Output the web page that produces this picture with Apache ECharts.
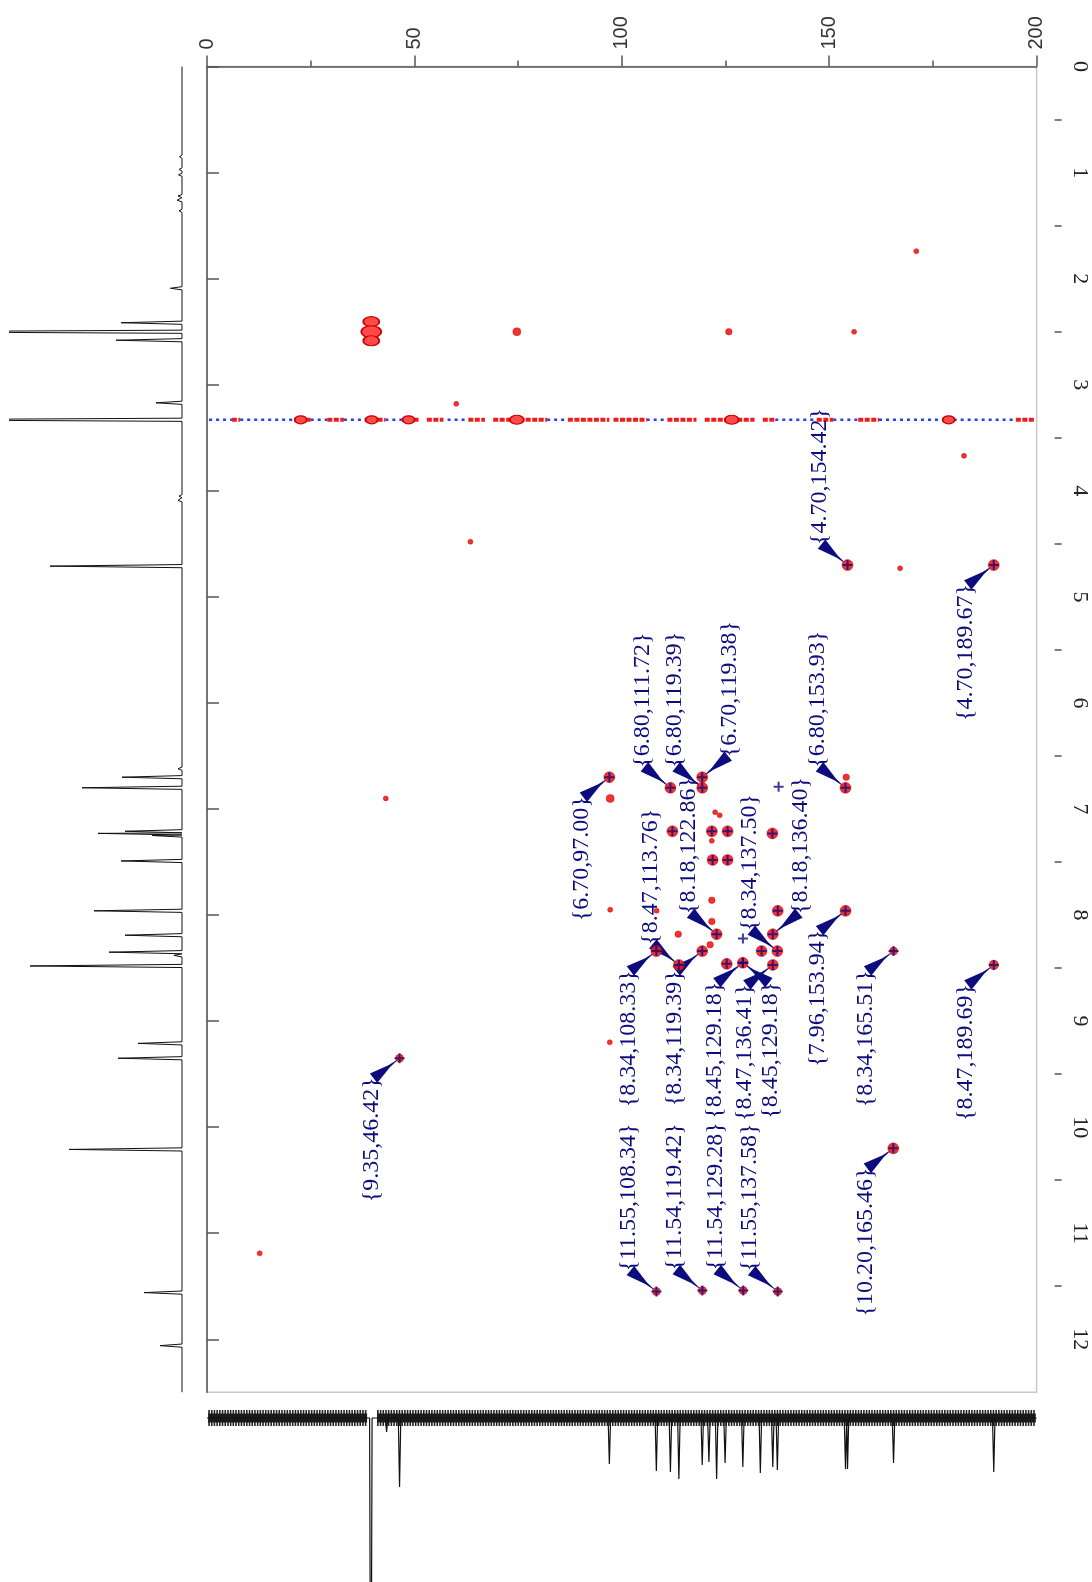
<!DOCTYPE html>
<html><head><meta charset="utf-8">
<script src="https://cdn.jsdelivr.net/npm/echarts@6/dist/echarts.min.js"></script>
<style>html,body{margin:0;padding:0;background:#fff}#c{width:1092px;height:1582px}</style>
</head><body><div id="c"></div>
<script>
// ---------- data ----------
// 13C axis ticks (top) and 1H axis ticks (right)
const cTicks = [0, 50, 100, 150, 200];
const hTicks = [0,1,2,3,4,5,6,7,8,9,10,11,12];
const hMinorTicks = [0.5,1.5,2.5,3.5,4.5,5.5,6.5,7.5,8.5,9.5,10.5,11.5];

// 1H projection peaks: [ppm, height]
const hPeaks = [[0.85,2.5],[0.97,3],[1.02,3.5],[1.22,4],[1.26,5],[1.36,3],[1.76,2],[2.09,11.5],
  [2.415,61],[2.50,300],[2.58,66],[3.17,26],[3.33,300],[4.05,3],[4.09,4],[4.71,132],
  [6.62,4],[6.70,60],[6.80,100],[7.21,57],[7.23,84],[7.25,30],[7.49,61],[7.96,88],[8.19,57],
  [8.35,73],[8.38,8],[8.48,152],[9.21,44],[9.35,64],[10.21,113],[11.56,38],[12.06,22]];

// 13C projection peaks: [ppm, depth]
const cPeaks = [[39.5,400],[43.3,14],[46.42,69],[97.0,46],[108.33,53],[111.72,54],[113.76,61],
  [119.39,47],[121.0,44],[122.86,61],[124.9,45],[129.18,49],[133.4,55],[136.40,49],[137.50,52],
  [153.93,51],[154.42,51],[165.51,45],[189.67,54]];

// 2D cross peaks: [13C, 1H, relative intensity 1..3]
const crossPeaks = [[171.0,1.74,1],[74.7,2.50,2],[125.8,2.50,1.5],[156.0,2.50,1],[60.1,3.18,1],
  [182.5,3.67,1],[63.5,4.48,1],[167.1,4.73,1],[154.42,4.70,3],[189.67,4.70,3],[43.1,6.90,1],
  [97.0,6.70,3],[97.2,6.90,2],[97.2,7.95,1],[97.1,9.20,1],[111.72,6.80,3],[119.39,6.80,3],
  [119.38,6.70,3],[153.93,6.80,3],[154.1,6.70,1.5],[112.2,7.21,3],[121.7,7.21,3],[125.5,7.21,3],
  [136.3,7.23,3],[122.5,7.03,1],[123.6,7.06,1],[121.7,7.30,1],[121.9,7.48,3],[125.5,7.48,3],
  [121.7,7.86,1.5],[108.4,7.96,1],[137.6,7.96,3],[153.94,7.96,3],[121.7,8.06,1.5],[113.6,8.18,1.5],
  [122.86,8.18,3],[136.40,8.18,3],[121.3,8.28,1.5],[108.33,8.34,3],[119.39,8.34,3],[133.7,8.34,3],
  [137.50,8.34,3],[165.51,8.34,2],[113.76,8.47,3],[125.3,8.46,3],[129.18,8.45,3],[136.41,8.47,3],
  [189.69,8.47,2.5],[46.42,9.35,2],[165.46,10.20,3],[12.7,11.19,1],[108.34,11.55,2],
  [119.42,11.54,2],[129.28,11.54,2],[137.58,11.55,2]];

// strong contours: DMSO cluster and t1-noise row blobs [13C, 1H, relative intensity]
const strongPeaks = [[39.6,2.405,2],[39.6,2.50,3],[39.6,2.585,2],
  [22.6,3.33,1],[39.7,3.33,1],[48.6,3.33,1],[74.7,3.33,1.5],[126.5,3.33,1.5],[178.8,3.33,1]];

// t1 noise along 1H 3.33: positive (red) and negative (blue) streaks, 13C ranges
const waterH = 3.33;
const redStreaks = [[6,8],[21,25],[29,33],[38,43],[47,51],[53,57],[63,67],[69,82],[87,97],
  [98,106],[111,118],[120,132],[134,137],[147,151],[157,162],[177.5,180],[195,199.5]];
const blueStreaks = [[0.5,6],[8,21],[25,29],[33,38],[43,47],[58,63],[82,87],[106,111],
  [137,147],[151,157],[162,177],[180,195]];

// extra marked peaks (blue crosses without label): [13C, 1H]
const plusExtra = [[112.2,7.21],[121.7,7.21],[125.5,7.21],[136.3,7.23],[121.9,7.48],[125.5,7.48],
  [137.8,6.79],[137.6,7.96],[129.2,8.22],[133.7,8.34],[125.3,8.46]];

// labelled peaks
const annoH = [4.70,4.70,6.70,6.80,6.80,6.70,6.80,8.47,8.18,8.34,8.18,8.34,8.34,8.45,8.47,8.45,7.96,8.34,8.47,9.35,11.55,11.54,11.54,11.55,10.20];
const annoC = [154.42,189.67,97.00,111.72,119.39,119.38,153.93,113.76,122.86,137.50,136.40,108.33,119.39,129.18,136.41,129.18,153.94,165.51,189.69,46.42,108.34,119.42,129.28,137.58,165.46];

// ---------- layout (not data) ----------
const annoPlace = ['UL','DL','DL','UL','UL','UR','UL','UL','UL','UL','UR','DL','DL','DL','DL','DR','DL','DL','DL','DL','UL','UL','UL','UL','DL'];
const NAVY = '#0c0c7e', RED = '#f01c1c', BLUE = '#2a3cf5';

function spikes(list, hw) {
  const out = [];
  list.forEach(p => { out.push([p[0]-hw, 0], [p[0], p[1]], [p[0]+hw, 0]); });
  return out;
}
const hLine = [[0, 0]].concat(spikes(hPeaks, 0.015).map(p => [p[1], p[0]])).concat([[0, 12.5]]);
const cLine = [[0, 0]].concat(spikes(cPeaks, 0.3)).concat([[200, 0]]);

const plusPath = 'path://M4,0h2v4h4v2h-4v4h-2v-4h-4v-2h4z';

function arrowPoly(sx, sy, ex, ey) {
  const dx = ex - sx, dy = ey - sy, L = Math.hypot(dx, dy);
  const ux = dx / L, uy = dy / L, nx = -uy, ny = ux;
  const w = 6, k = 0.6 * L;
  const mx = sx + ux * k, my = sy + uy * k;
  return [[sx + nx * w, sy + ny * w], [mx + nx * 1.2, my + ny * 1.2], [ex, ey], [mx - nx * 1.2, my - ny * 1.2], [sx - nx * w, sy - ny * w]];
}

const axisCol = '#555';
const bandSeries = (a, b) => [
  {type: 'line', xAxisIndex: 2, yAxisIndex: 3, data: [[a, 0], [b, 0]], symbol: 'none',
    lineStyle: {color: '#222', width: 16, type: [1.6, 1.1]}},
  {type: 'line', xAxisIndex: 2, yAxisIndex: 3, data: [[a, 0], [b, 0]], symbol: 'none',
    lineStyle: {color: '#1a1a1a', width: 9}}
];
const option = {
  animation: false,
  backgroundColor: '#fff',
  grid: [
    {left: 207, top: 66.6, width: 829.6, height: 1325.7, show: true, borderColor: '#c8c8c8', borderWidth: 1.5},
    {left: 10, top: 66.6, width: 172, height: 1325.7},
    {left: 207, top: 1405, width: 829.6, height: 177}
  ],
  xAxis: [
    {gridIndex: 0, type: 'value', min: 0, max: 200, interval: 50, position: 'top', offset: 4,
      axisLine: {show: true, lineStyle: {color: axisCol, width: 1.5}},
      axisTick: {show: true, length: 11, lineStyle: {color: axisCol, width: 1.5}},
      minorTick: {show: true, splitNumber: 2, length: 6, lineStyle: {color: axisCol, width: 1.5}},
      axisLabel: {rotate: 90, margin: 13, fontFamily: 'Liberation Sans', fontSize: 20, color: '#333',
        customValues: cTicks},
      splitLine: {show: false}},
    {gridIndex: 1, type: 'value', min: 0, max: 172, inverse: true, show: false},
    {gridIndex: 2, type: 'value', min: 0, max: 200, show: false}
  ],
  yAxis: [
    {gridIndex: 0, type: 'value', min: 0, max: 12.5, inverse: true, position: 'right', offset: 18,
      axisLine: {show: true, lineStyle: {color: axisCol, width: 1.5}},
      axisTick: {show: true, length: 12, customValues: hTicks, lineStyle: {color: axisCol, width: 1.5}},
      axisLabel: {rotate: -90, margin: 14, customValues: hTicks, fontFamily: 'Liberation Serif', fontSize: 22, color: '#222'},
      splitLine: {show: false}},
    {gridIndex: 0, type: 'value', min: 0, max: 12.5, inverse: true, position: 'right', offset: 18,
      axisLine: {show: false},
      axisTick: {show: true, length: 7, customValues: hMinorTicks, lineStyle: {color: axisCol, width: 1.5}},
      axisLabel: {show: false}, splitLine: {show: false}},
    {gridIndex: 1, type: 'value', min: 0, max: 12.5, inverse: true, show: false},
    {gridIndex: 2, type: 'value', min: -13, max: 164, inverse: true, show: false}
  ],
  series: [
    {type: 'line', xAxisIndex: 1, yAxisIndex: 2, data: hLine, symbol: 'none', clip: true,
      lineStyle: {color: '#111', width: 1}},
    ...bandSeries(0.3, 38.6),
    ...bandSeries(41.0, 199.8),
    {type: 'line', xAxisIndex: 2, yAxisIndex: 3, data: cLine, symbol: 'none', clip: true,
      lineStyle: {color: '#111', width: 1.2}},
    {type: 'custom', xAxisIndex: 0, yAxisIndex: 0, data: blueStreaks.map(s => [s[0], s[1], waterH]),
      renderItem: function (params, api) {
        const a = api.coord([api.value(0), api.value(2)]), b = api.coord([api.value(1), api.value(2)]);
        return {type: 'line', shape: {x1: a[0], y1: a[1], x2: b[0], y2: b[1]},
          style: {stroke: BLUE, lineWidth: 2.5, lineDash: [3, 4]}};
      }},
    {type: 'custom', xAxisIndex: 0, yAxisIndex: 0, data: redStreaks.map(s => [s[0], s[1], waterH]),
      renderItem: function (params, api) {
        const a = api.coord([api.value(0), api.value(2)]), b = api.coord([api.value(1), api.value(2)]);
        return {type: 'line', shape: {x1: a[0], y1: a[1], x2: b[0], y2: b[1]},
          style: {stroke: RED, lineWidth: 4, lineDash: [5, 1.5]}};
      }},
    {type: 'scatter', xAxisIndex: 0, yAxisIndex: 0, data: strongPeaks, symbol: 'circle',
      symbolSize: v => [8 + v[2] * 4, 6 + v[2] * 2],
      itemStyle: {color: '#ff4a4a', borderColor: '#c80000', borderWidth: 1.5, opacity: 1}},
    {type: 'scatter', xAxisIndex: 0, yAxisIndex: 0, data: crossPeaks, symbol: 'circle',
      symbolSize: v => 2 + v[2] * 3,
      itemStyle: {color: RED, borderColor: '#d00000', borderWidth: 0.5, opacity: 0.9}},
    {type: 'scatter', xAxisIndex: 0, yAxisIndex: 0,
      data: plusExtra.concat(annoC.map((c, i) => [c, annoH[i]])), symbol: plusPath, symbolSize: 10,
      itemStyle: {color: NAVY}},
    {type: 'custom', xAxisIndex: 0, yAxisIndex: 0, data: annoC.map((c, i) => [c, annoH[i], i]),
      renderItem: function (params, api) {
        const i = api.value(2);
        const p = api.coord([api.value(0), api.value(1)]);
        const pl = annoPlace[i];
        const up = pl[0] === 'U', hs = pl[1] === 'L' ? -1 : 1;
        const ax = p[0] + hs * 28, ay = p[1] + (up ? -20 : 19);
        const txt = '{' + annoH[i].toFixed(2) + ',' + annoC[i].toFixed(2) + '}';
        return {type: 'group', children: [
          {type: 'polygon', shape: {points: arrowPoly(ax - hs * 2, ay + (up ? -1 : 1), p[0], p[1])},
            style: {fill: NAVY}},
          {type: 'text', x: ax, y: ay, rotation: Math.PI / 2,
            style: {text: txt, fontFamily: 'Liberation Serif', fontSize: 24, fill: NAVY,
              align: up ? 'left' : 'right', verticalAlign: 'middle'}}
        ]};
      }}
  ]
};
const chart = echarts.init(document.getElementById('c'));
chart.setOption(option);
</script></body></html>
